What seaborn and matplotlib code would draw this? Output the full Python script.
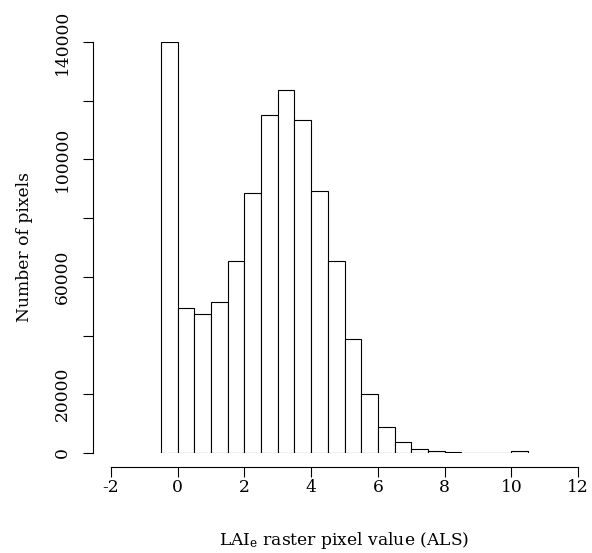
import numpy as np
import pandas as pd
import seaborn as sns
import matplotlib
matplotlib.use("Agg")
import matplotlib.pyplot as plt

# Границы интервалов гистограммы (шаг 0.5) и число пикселей в каждом
bin_edges = [-0.5, 0.0, 0.5, 1.0, 1.5, 2.0, 2.5, 3.0, 3.5, 4.0, 4.5, 5.0,
             5.5, 6.0, 6.5, 7.0, 7.5, 8.0, 8.5, 9.0, 9.5, 10.0, 10.5]
pixel_counts = [139900, 49300, 47400, 51500, 65400, 88600, 115200, 123500,
                113300, 89300, 65400, 39000, 20100, 8700, 3700, 1300, 600,
                300, 150, 100, 100, 600]

x_ticks = [-2, 0, 2, 4, 6, 8, 10, 12]
y_ticks = [0, 20000, 40000, 60000, 80000, 100000, 120000, 140000]
y_tick_labels = ['0', '20000', '', '60000', '', '100000', '', '140000']

df = pd.DataFrame({
    'value': [(a + b) / 2 for a, b in zip(bin_edges[:-1], bin_edges[1:])],
    'count': pixel_counts,
})

sns.set_style('ticks')
plt.rcParams['font.family'] = ['DejaVu Serif']
plt.rcParams['mathtext.fontset'] = 'custom'
plt.rcParams['mathtext.rm'] = 'DejaVu Serif'
plt.rcParams['mathtext.it'] = 'DejaVu Serif:italic'
plt.rcParams['text.color'] = 'black'
plt.rcParams['axes.labelcolor'] = 'black'

fs = 12.3

fig = plt.figure(figsize=(5.92, 5.53), dpi=100)
ax = fig.add_axes([111 / 592, 100 / 553, 467 / 592, 411 / 553])

sns.histplot(data=df, x='value', weights='count', bins=bin_edges,
             color='white', edgecolor='black', linewidth=0.8, alpha=1,
             ax=ax)

ax.set_xlim(-2, 12)
ax.set_ylim(0, 140000)

for side in ['top', 'right']:
    ax.spines[side].set_visible(False)
ax.spines['left'].set_position(('outward', 18 * 0.72))
ax.spines['bottom'].set_position(('outward', 14 * 0.72))
ax.spines['left'].set_bounds(0, 140000)
ax.spines['bottom'].set_bounds(-2, 12)
for side in ['left', 'bottom']:
    ax.spines[side].set_linewidth(0.8)
    ax.spines[side].set_color('black')

ax.set_xticks(x_ticks)
ax.set_xticklabels([str(t) for t in x_ticks])
ax.set_yticks(y_ticks)
ax.set_yticklabels(y_tick_labels, rotation=90, va='center')
ax.tick_params(axis='both', length=7, width=0.8, color='black',
               labelsize=fs, labelcolor='black')
ax.tick_params(axis='x', pad=2)
ax.tick_params(axis='y', pad=9)

ax.set_xlabel('LAI$_\\mathrm{e}$ raster pixel value (ALS)', fontsize=fs,
              labelpad=24, color='black')
ax.set_ylabel('Number of pixels', fontsize=fs, labelpad=15, color='black')

fig.savefig('out.png', dpi=100, facecolor='white')
